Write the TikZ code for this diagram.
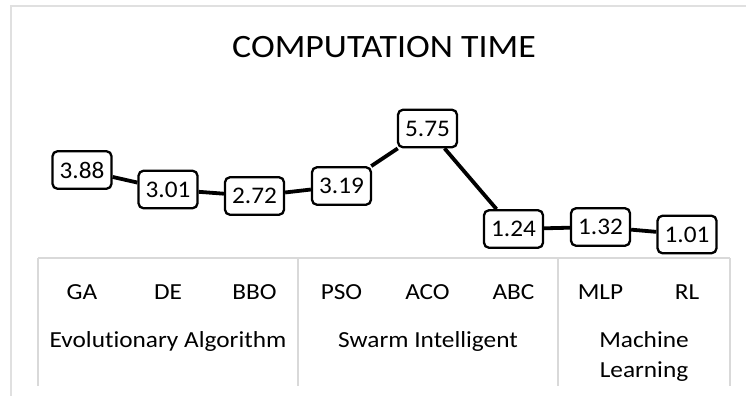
\documentclass[tikz,border=0pt]{standalone}
\usepackage{fontspec}
\setmainfont{Carlito}
\newfontfamily\chartfont[FakeStretch=1.1,Ligatures=NoCommon]{Carlito}
\newfontfamily\valuefont[FakeStretch=1.06,Ligatures=NoCommon]{Carlito}
\begin{document}
\begin{tikzpicture}[x=1pt,y=-1pt,
  valbox/.style={draw=black,line width=2.3pt,rounded corners=5pt,fill=white,
    minimum width=59pt,minimum height=37.5pt,inner sep=0pt,
    font=\valuefont\fontsize{23.8}{28}\selectfont},
  trend/.style={line width=3.8pt,black},
  grid/.style={draw=black!15,line width=1.5pt},
  algo/.style={anchor=base,inner sep=0pt,font=\chartfont\fontsize{23}{28}\selectfont},
  family/.style={anchor=base,inner sep=0pt,font=\chartfont\fontsize{23}{28}\selectfont}]
  \useasboundingbox (0,0) rectangle (746,396);
  \fill[white] (0,0) rectangle (746,396);

  % chart frame
  \draw[draw=black!12,line width=2pt] (10.5,396) -- (10.5,6.5) -- (746,6.5);

  % title
  \node[anchor=base,inner sep=0pt,font=\chartfont\fontsize{32.6}{38}\selectfont] (title) at (384,57) {COMPUTATION TIME};

  % category table
  \draw[grid] (38,258) -- (730,258);
  \foreach \x in {38,298,558,730} \draw[grid] (\x,258) -- (\x,386);

  % values
  \node[valbox] (vGA)  at (82,170)  {3.88};
  \node[valbox] (vDE)  at (168,189.5) {3.01};
  \node[valbox] (vBBO) at (254.5,196) {2.72};
  \node[valbox] (vPSO) at (341.5,186) {3.19};
  \node[valbox] (vACO) at (427.5,128.5) {5.75};
  \node[valbox] (vABC) at (513.5,229) {1.24};
  \node[valbox] (vMLP) at (600.5,227) {1.32};
  \node[valbox] (vRL)  at (687,234.5) {1.01};

  \draw[trend] (vGA) -- (vDE);
  \draw[trend] (vDE) -- (vBBO);
  \draw[trend] (vBBO) -- (vPSO);
  \draw[trend] (vPSO) -- (vACO);
  \draw[trend] (vACO) -- (vABC);
  \draw[trend] (vABC) -- (vMLP);
  \draw[trend] (vMLP) -- (vRL);

  % axis labels
  \node[algo] (lGA)  at (82,299)  {GA};
  \node[algo] (lDE)  at (168,299) {DE};
  \node[algo] (lBBO) at (254.5,299) {BBO};
  \node[algo] (lPSO) at (341.5,299) {PSO};
  \node[algo] (lACO) at (427.5,299) {ACO};
  \node[algo] (lABC) at (513.5,299) {ABC};
  \node[algo] (lMLP) at (600.5,299) {MLP};
  \node[algo] (lRL)  at (687,299) {RL};

  \node[family] (fEA) at (168,347) {Evolutionary Algorithm};
  \node[family] (fSI) at (428,347) {Swarm Intelligent};
  \node[family] (fML1) at (644,347) {Machine};
  \node[family] (fML2) at (644,377) {Learning};
\end{tikzpicture}
\end{document}
